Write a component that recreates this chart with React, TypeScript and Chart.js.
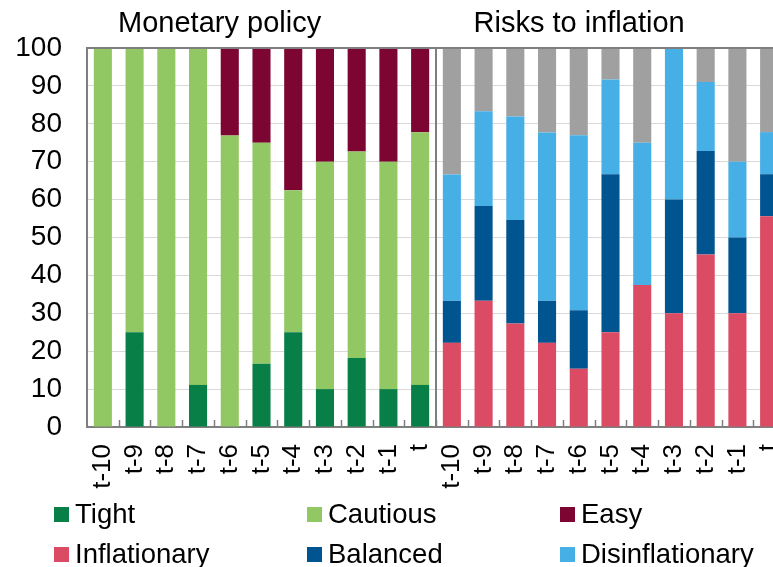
import { useEffect, useRef } from "react";
import { Chart, registerables } from "chart.js";

Chart.register(...registerables);

// ---- data ----
const periods = ["t-10", "t-9", "t-8", "t-7", "t-6", "t-5", "t-4", "t-3", "t-2", "t-1", "t"];
const categories = [...periods, ...periods];
const panelTitles = ["Monetary policy", "Risks to inflation"];

const tight = [0, 25, 0, 11.1, 0, 16.7, 25, 10, 18.2, 10, 11.1];
const cautious = [100, 75, 100, 88.9, 76.9, 58.3, 37.5, 60, 54.5, 60, 66.7];
const easy = [0, 0, 0, 0, 23.1, 25, 37.5, 30, 27.3, 30, 22.2];

const inflationary = [22.2, 33.3, 27.3, 22.2, 15.4, 25, 37.5, 30, 45.5, 30, 55.6];
const balanced = [11.1, 25, 27.3, 11.1, 15.4, 41.7, 0, 30, 27.3, 20, 11.1];
const disinflationary = [33.3, 25, 27.3, 44.4, 46.2, 25, 37.5, 40, 18.2, 20, 11.1];
const noAnswer = [33.3, 16.7, 18.2, 22.2, 23.1, 8.3, 25, 0, 9.1, 30, 22.2];

const yMin = 0;
const yMax = 100;
const yStep = 10;

const FONT = "'Liberation Sans', Arial, sans-serif";
const blanks = periods.map(() => null);

const leftPanel = (v: number[]) => [...v, ...blanks];
const rightPanel = (v: number[]) => [...blanks, ...v];

const overlayPlugin = {
  id: "overlay",
  afterDatasetsDraw(chart: any) {
    const { ctx, chartArea } = chart;
    const n = categories.length;
    const band = (chartArea.right - chartArea.left) / n;
    const divider = chartArea.left + band * periods.length;
    ctx.save();
    // inner tick marks at category boundaries
    ctx.strokeStyle = "#7f7f7f";
    ctx.lineWidth = 1.5;
    for (let i = 1; i < n; i++) {
      const px = Math.round(chartArea.left + band * i) + 0.5;
      ctx.beginPath();
      ctx.moveTo(px, chartArea.bottom - 7);
      ctx.lineTo(px, chartArea.bottom);
      ctx.stroke();
    }
    // top border
    ctx.lineWidth = 2;
    ctx.beginPath();
    ctx.moveTo(chartArea.left, chartArea.top);
    ctx.lineTo(chartArea.right, chartArea.top);
    ctx.stroke();
    // panel divider
    ctx.beginPath();
    ctx.moveTo(divider, chartArea.top);
    ctx.lineTo(divider, chartArea.bottom);
    ctx.stroke();
    // panel titles
    ctx.fillStyle = "#000";
    ctx.font = `29px ${FONT}`;
    ctx.textAlign = "center";
    ctx.textBaseline = "alphabetic";
    const w = divider - chartArea.left;
    ctx.fillText(panelTitles[0], chartArea.left + w * 0.38, 32);
    ctx.fillText(panelTitles[1], divider + w * 0.41, 32);
    // legend
    const items = chart.data.datasets.filter((d: any) => d.showInLegend);
    ctx.textAlign = "left";
    ctx.font = `27.5px ${FONT}`;
    items.forEach((d: any, i: number) => {
      const col = i % 3;
      const row = Math.floor(i / 3);
      const sx = 54 + col * 253;
      const sy = chartArea.bottom + 80 + row * 40;
      ctx.fillStyle = d.backgroundColor;
      ctx.fillRect(sx, sy, 15, 15);
      ctx.fillStyle = "#000";
      ctx.fillText(d.label, sx + 21, sy + 16);
    });
    ctx.restore();
  },
};

export default function App() {
  const ref = useRef<HTMLCanvasElement | null>(null);
  useEffect(() => {
    if (!ref.current) return;
    const chart = new Chart(ref.current, {
      type: "bar",
      data: {
        labels: categories,
        datasets: [
          { label: "Tight", data: leftPanel(tight), backgroundColor: "#087f47", showInLegend: true },
          { label: "Cautious", data: leftPanel(cautious), backgroundColor: "#92c864", showInLegend: true },
          { label: "Easy", data: leftPanel(easy), backgroundColor: "#7d0532", showInLegend: true },
          { label: "Inflationary", data: rightPanel(inflationary), backgroundColor: "#dc4b64", showInLegend: true },
          { label: "Balanced", data: rightPanel(balanced), backgroundColor: "#005591", showInLegend: true },
          { label: "Disinflationary", data: rightPanel(disinflationary), backgroundColor: "#46afe6", showInLegend: true },
          { label: "No view", data: rightPanel(noAnswer), backgroundColor: "#a0a0a0", showInLegend: false },
        ] as any,
      },
      options: {
        animation: false,
        responsive: false,
        layout: { padding: { top: 48, right: 5, left: 0, bottom: 0 } },
        datasets: { bar: { categoryPercentage: 1, barPercentage: 0.57, borderWidth: 0 } },
        plugins: { legend: { display: false }, tooltip: { enabled: false }, title: { display: false } },
        scales: {
          x: {
            stacked: true,
            grid: { display: true, drawOnChartArea: false, drawTicks: false },
            border: { display: true, color: "#7f7f7f", width: 2 },
            ticks: {
              autoSkip: false,
              minRotation: 90,
              maxRotation: 90,
              padding: 17,
              color: "#000",
              font: { size: 26, family: FONT },
            },
            afterFit(scale: any) {
              scale.height = 140;
              scale.paddingLeft = 0;
              scale.paddingRight = 0;
            },
          },
          y: {
            stacked: true,
            min: yMin,
            max: yMax,
            grid: { color: "#d9d9d9", lineWidth: 1, drawTicks: false },
            border: { display: true, color: "#7f7f7f", width: 2 },
            ticks: {
              stepSize: yStep,
              padding: 25,
              color: "#000",
              font: { size: 28, family: FONT },
            },
            afterFit(scale: any) {
              scale.width = 87;
              scale.paddingTop = 0;
              scale.paddingBottom = 0;
            },
          },
        },
      } as any,
      plugins: [overlayPlugin],
    });
    return () => chart.destroy();
  }, []);
  return (
    <div style={{ position: "fixed", left: 0, top: 0, width: 773, height: 567, overflow: "hidden", background: "#fff" }}>
      <canvas ref={ref} width={790} height={567} style={{ width: 790, height: 567, display: "block" }} />
    </div>
  );
}
